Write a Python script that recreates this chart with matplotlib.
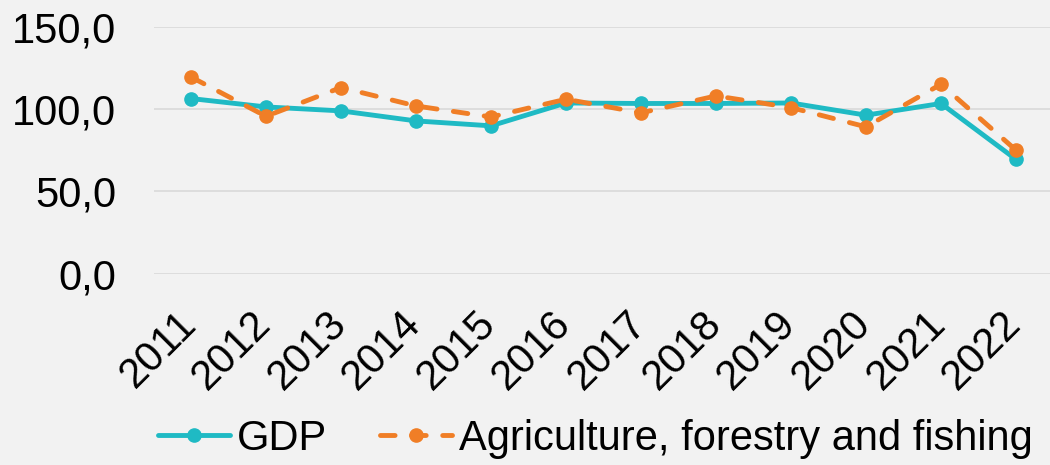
import matplotlib
matplotlib.use("Agg")
import matplotlib.pyplot as plt
from matplotlib.ticker import FuncFormatter
from matplotlib.transforms import ScaledTranslation

years = ["2011", "2012", "2013", "2014", "2015", "2016", "2017", "2018", "2019", "2020", "2021", "2022"]
gdp = [106.5, 101.4, 99.0, 92.9, 89.9, 103.8, 103.5, 103.5, 103.8, 96.4, 103.5, 69.5]
agri = [119.6, 95.7, 113.2, 102.0, 95.3, 106.1, 97.8, 108.1, 101.0, 89.3, 115.2, 75.1]

plt.rcParams['font.family'] = ['Liberation Sans', 'DejaVu Sans']
W, H = 1050, 465
fig = plt.figure(figsize=(W/100, H/100), dpi=100, facecolor='#F2F2F2')
left = 153.5 / W
right = 1053.5 / W
top = 1 - 27 / H
bottom = 1 - 273.7 / H
ax = fig.add_axes([left, bottom, right - left, top - bottom])
ax.set_facecolor('#F2F2F2')

x = list(range(len(years)))
ax.plot(x, gdp, color='#1FBAC4', lw=3.5, marker='o', ms=9.5, label='GDP', zorder=3, solid_capstyle='round')
ax.plot(x, agri, color='#F07E26', lw=3.5, marker='o', ms=9.5, dashes=(3.0, 3.4), dash_capstyle='round',
        label='Agriculture, forestry and fishing', zorder=4)

ax.set_xlim(-0.5, 11.5)
ax.set_ylim(0, 150)
ax.set_yticks([0, 50, 100, 150])
ax.yaxis.set_major_formatter(FuncFormatter(lambda v, p: f"{v:.1f}".replace('.', ',')))
ax.grid(axis='y', color='#D9D9D9', lw=1.2)
ax.set_axisbelow(True)
for s in ax.spines.values():
    s.set_visible(False)
ax.tick_params(axis='both', length=0, labelsize=30, colors='black')
ax.tick_params(axis='y', pad=27)
ax.set_xticks(x)
ax.set_xticklabels(years, rotation=45, ha='right', rotation_mode='anchor')
ax.tick_params(axis='x', pad=8)
off = ScaledTranslation(-15 / 100, -19 / 100, fig.dpi_scale_trans)
for lab in ax.get_xticklabels():
    lab.set_transform(lab.get_transform() + off)

leg = fig.legend(loc='center', bbox_to_anchor=(0.567, 1 - 439 / H), ncol=2, frameon=False,
                 fontsize=30, handlelength=1.73, handletextpad=0.16, columnspacing=1.27)
fig.savefig('out.png', dpi=100, facecolor='#F2F2F2')
